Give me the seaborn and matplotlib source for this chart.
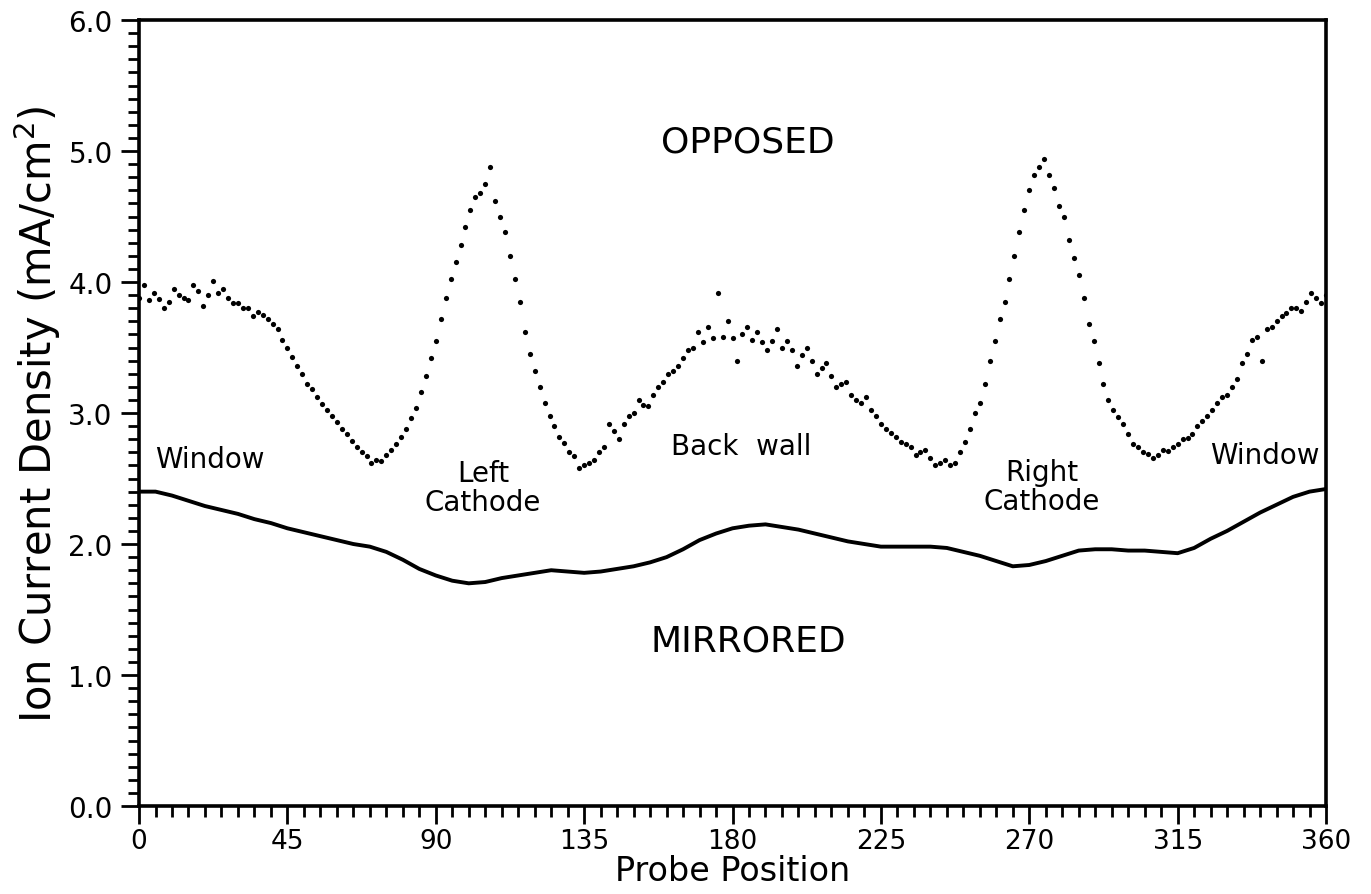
import numpy as np
import pandas as pd
import matplotlib
matplotlib.use("Agg")
import matplotlib.pyplot as plt
from matplotlib.ticker import MultipleLocator, FormatStrFormatter
import seaborn as sns

# Opposed configuration: two probe sweeps, interleaved in angle
opposed_angle_a = np.arange(0, 361, 3)
opposed_a = [
    3.88, 3.86, 3.87, 3.85, 3.90, 3.86, 3.93, 3.90, 3.92, 3.88,
    3.84, 3.80, 3.77, 3.72, 3.64, 3.50, 3.36, 3.22, 3.12, 3.02,
    2.93, 2.84, 2.74, 2.67, 2.64, 2.68, 2.76, 2.88, 3.04, 3.28,
    3.55, 3.88, 4.15, 4.42, 4.65, 4.75, 4.62, 4.38, 4.02, 3.62,
    3.32, 3.08, 2.90, 2.77, 2.67, 2.60, 2.64, 2.74, 2.86, 2.92,
    3.00, 3.06, 3.14, 3.24, 3.32, 3.42, 3.50, 3.54, 3.57, 3.58,
    3.57, 3.60, 3.56, 3.54, 3.55, 3.50, 3.48, 3.44, 3.40, 3.34,
    3.28, 3.22, 3.14, 3.08, 3.02, 2.92, 2.85, 2.78, 2.74, 2.70,
    2.66, 2.62, 2.60, 2.70, 2.88, 3.08, 3.40, 3.72, 4.02, 4.38,
    4.70, 4.88, 4.82, 4.58, 4.32, 4.05, 3.68, 3.38, 3.10, 2.97,
    2.84, 2.74, 2.69, 2.68, 2.71, 2.76, 2.81, 2.90, 2.98, 3.08,
    3.14, 3.26, 3.45, 3.58, 3.64, 3.70, 3.76, 3.80, 3.85, 3.88,
    3.90,
]

opposed_angle_b = np.arange(1.5, 360, 3)
opposed_b = [
    3.98, 3.92, 3.80, 3.95, 3.88, 3.98, 3.82, 4.01, 3.95, 3.84,
    3.80, 3.74, 3.75, 3.68, 3.56, 3.43, 3.30, 3.18, 3.07, 2.98,
    2.88, 2.79, 2.70, 2.62, 2.63, 2.72, 2.82, 2.96, 3.16, 3.42,
    3.72, 4.02, 4.28, 4.55, 4.68, 4.88, 4.50, 4.20, 3.85, 3.45,
    3.20, 2.98, 2.82, 2.70, 2.58, 2.62, 2.70, 2.92, 2.80, 2.98,
    3.10, 3.05, 3.20, 3.30, 3.36, 3.48, 3.62, 3.66, 3.92, 3.70,
    3.40, 3.66, 3.62, 3.48, 3.64, 3.55, 3.36, 3.50, 3.30, 3.38,
    3.20, 3.24, 3.10, 3.12, 2.98, 2.88, 2.82, 2.76, 2.68, 2.72,
    2.60, 2.64, 2.62, 2.78, 3.00, 3.22, 3.55, 3.85, 4.20, 4.55,
    4.82, 4.94, 4.72, 4.50, 4.18, 3.88, 3.55, 3.22, 3.02, 2.92,
    2.76, 2.70, 2.66, 2.72, 2.74, 2.80, 2.84, 2.94, 3.02, 3.12,
    3.20, 3.38, 3.56, 3.40, 3.66, 3.74, 3.80, 3.78, 3.92, 3.84,
]

# Mirrored configuration
mirrored_angle = np.arange(0, 361, 5)
mirrored = [
    2.40, 2.40, 2.37, 2.33, 2.29, 2.26,
    2.23, 2.19, 2.16, 2.12, 2.09, 2.06,
    2.03, 2.00, 1.98, 1.94, 1.88, 1.81,
    1.76, 1.72, 1.70, 1.71, 1.74, 1.76,
    1.78, 1.80, 1.79, 1.78, 1.79, 1.81,
    1.83, 1.86, 1.90, 1.96, 2.03, 2.08,
    2.12, 2.14, 2.15, 2.13, 2.11, 2.08,
    2.05, 2.02, 2.00, 1.98, 1.98, 1.98,
    1.98, 1.97, 1.94, 1.91, 1.87, 1.83,
    1.84, 1.87, 1.91, 1.95, 1.96, 1.96,
    1.95, 1.95, 1.94, 1.93, 1.97, 2.04,
    2.10, 2.17, 2.24, 2.30, 2.36, 2.40,
    2.42,
]

x_ticks = [0, 45, 90, 135, 180, 225, 270, 315, 360]

sns.set_theme(style="ticks")
plt.rcParams["font.family"] = ["DejaVu Sans"]
plt.rcParams["axes.labelcolor"] = "black"
plt.rcParams["text.color"] = "black"

opposed_df = pd.DataFrame({
    "angle": np.concatenate([opposed_angle_a, opposed_angle_b]),
    "current": opposed_a + opposed_b,
})
mirrored_df = pd.DataFrame({"angle": mirrored_angle, "current": mirrored})

fig = plt.figure(figsize=(13.71, 8.95), dpi=100)
ax = fig.add_axes([0.1014, 0.0983, 0.8658, 0.8782])

sns.scatterplot(data=opposed_df, x="angle", y="current", ax=ax,
                color="black", s=14, marker="o", linewidth=0, legend=False)
sns.lineplot(data=mirrored_df, x="angle", y="current", ax=ax,
             color="black", linewidth=2.8, legend=False)

ax.set_xlim(0, 360)
ax.set_ylim(0, 6)
ax.set_xticks(x_ticks)
ax.xaxis.set_minor_locator(MultipleLocator(5))
ax.yaxis.set_major_locator(MultipleLocator(1))
ax.yaxis.set_minor_locator(MultipleLocator(0.1))
ax.yaxis.set_major_formatter(FormatStrFormatter("%.1f"))

ax.tick_params(axis="both", which="major", direction="out", length=13,
               width=2, labelsize=20, color="black", labelcolor="black")
ax.tick_params(axis="both", which="minor", direction="out", length=8,
               width=2, color="black")
ax.tick_params(axis="x", which="major", pad=3, labelsize=19)
ax.tick_params(axis="y", which="major", pad=6)

for side in ["left", "right", "top", "bottom"]:
    ax.spines[side].set_visible(True)
    ax.spines[side].set_color("black")
    ax.spines[side].set_linewidth(2.6)

ax.set_xlabel("Probe Position", fontsize=24, labelpad=0)
ax.set_ylabel("Ion Current Density (mA/cm$^2$)", fontsize=30, labelpad=4)

label_style = dict(ha="center", va="center", color="black", linespacing=1.05)
ax.text(184.7, 5.07, "OPPOSED", fontsize=26, **label_style)
ax.text(184.7, 1.26, "MIRRORED", fontsize=26, **label_style)
ax.text(21.5, 2.65, "Window", fontsize=20, **label_style)
ax.text(104.3, 2.43, "Left\nCathode", fontsize=20, **label_style)
ax.text(182.6, 2.75, "Back  wall", fontsize=20, **label_style)
ax.text(273.9, 2.44, "Right\nCathode", fontsize=20, **label_style)
ax.text(341.5, 2.68, "Window", fontsize=20, **label_style)

fig.savefig("out.png", dpi=100, facecolor="white")
